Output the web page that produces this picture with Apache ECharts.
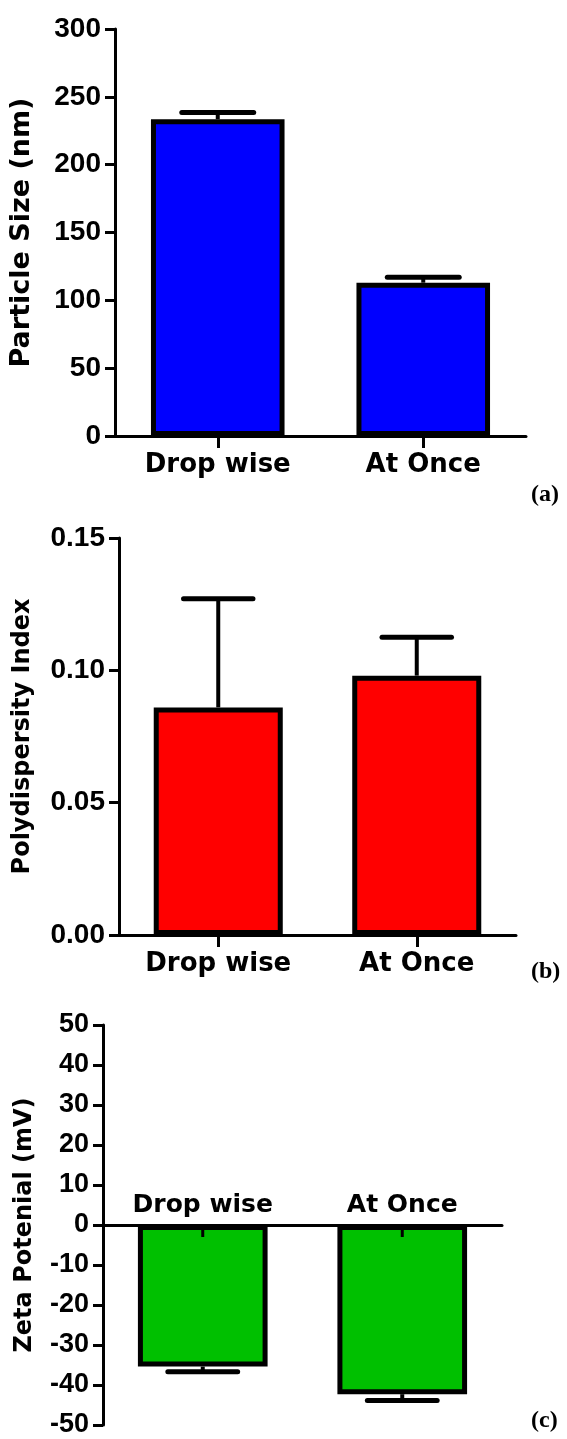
<!DOCTYPE html>
<html>
<head>
<meta charset="utf-8">
<script src="https://cdn.jsdelivr.net/npm/echarts@6/dist/echarts.min.js"></script>
<style>
html,body{margin:0;padding:0;background:#fff;}
#chart{width:567px;height:1439px;}
</style>
</head>
<body>
<div id="chart"></div>
<script>
// ---- data ----
const categories = ['Drop wise', 'At Once'];
const sizeMean = [233.5, 113];
const sizeErr = [5, 4];
const pdiMean = [0.086, 0.098];
const pdiErr = [0.041, 0.0145];
const zetaMean = [-35.4, -42.3];
const zetaErr = [1.3, 1.6];
const sizeTicks = {min: 0, max: 300, interval: 50};
const pdiTicks = {min: 0, max: 0.15, interval: 0.05};
const zetaTicks = {min: -50, max: 50, interval: 10};

const chart = echarts.init(document.getElementById('chart'), null, {renderer: 'canvas'});

const tickFont = {fontFamily: 'Liberation Sans', fontWeight: 'bold', color: '#000'};
const catFont = {fontFamily: 'DejaVu Sans', fontWeight: 'bold', color: '#000'};
const AXW = 3;
const BW = 5;

function errorRender(sign) {
  return function (params, api) {
    const x = api.value(0);
    const mean = api.value(1);
    const err = api.value(2);
    const p0 = api.coord([x, mean]);
    const p1 = api.coord([x, mean + sign * err]);
    const band = api.size([1, 0])[0];
    const half = band * 0.175;
    return {
      type: 'group',
      children: [
        {type: 'line', shape: {x1: p0[0], y1: p0[1], x2: p1[0], y2: p1[1]},
         style: {stroke: '#000', lineWidth: 4}},
        {type: 'line', shape: {x1: p1[0] - half, y1: p1[1], x2: p1[0] + half, y2: p1[1]},
         style: {stroke: '#000', lineWidth: 5, lineCap: 'round'}}
      ]
    };
  };
}

// category label above the zero line plus a tick pointing down (panel c)
function catLabelRender(params, api) {
  const i = api.value(0);
  const p = api.coord([i, 0]);
  return {
    type: 'group',
    children: [
      {type: 'line', shape: {x1: p[0], y1: p[1], x2: p[0], y2: p[1] + 12},
       style: {stroke: '#000', lineWidth: AXW}},
      {type: 'text', x: p[0], y: p[1] - 7,
       style: {text: categories[params.dataIndex], fill: '#000',
               font: 'bold 25px "DejaVu Sans"', align: 'center', verticalAlign: 'bottom'}}
    ]
  };
}

function errData(mean, err) {
  return mean.map((m, i) => [i, m, err[i]]);
}

function xAxisCfg(gridIndex, showLabel, margin, z) {
  return {
    type: 'category', gridIndex: gridIndex, data: categories, z: z,
    axisLine: {onZero: true, lineStyle: {color: '#000', width: AXW}},
    axisTick: {show: showLabel, alignWithLabel: true, length: 12, lineStyle: {color: '#000', width: AXW}},
    axisLabel: Object.assign({show: showLabel, fontSize: 26, margin: margin}, catFont),
    splitLine: {show: false}
  };
}

function yAxisCfg(gridIndex, ticks, name, nameSize, nameGap, labelSize, fmt) {
  return Object.assign({
    type: 'value', gridIndex: gridIndex,
    name: name, nameLocation: 'middle', nameGap: nameGap,
    nameTextStyle: Object.assign({fontSize: nameSize}, catFont),
    axisLine: {show: true, lineStyle: {color: '#000', width: AXW}},
    axisTick: {show: true, length: 10, lineStyle: {color: '#000', width: AXW}},
    axisLabel: Object.assign({fontSize: labelSize, margin: 14, formatter: fmt}, tickFont),
    splitLine: {show: false}
  }, ticks);
}

const option = {
  backgroundColor: '#fff',
  animation: false,
  title: [
    {text: '(a)', left: 526, top: 478, textStyle: {fontFamily: 'Liberation Serif', fontWeight: 'bold', fontSize: 24, color: '#000'}},
    {text: '(b)', left: 526, top: 955, textStyle: {fontFamily: 'Liberation Serif', fontWeight: 'bold', fontSize: 24, color: '#000'}},
    {text: '(c)', left: 526, top: 1404, textStyle: {fontFamily: 'Liberation Serif', fontWeight: 'bold', fontSize: 24, color: '#000'}}
  ],
  grid: [
    {left: 115, top: 29, width: 411, height: 407},
    {left: 119, top: 538, width: 397, height: 397},
    {left: 103, top: 1025, width: 399, height: 400}
  ],
  xAxis: [
    xAxisCfg(0, true, 16, 0),
    xAxisCfg(1, true, 16, 0),
    xAxisCfg(2, false, 8, 5)
  ],
  yAxis: [
    yAxisCfg(0, sizeTicks, 'Particle Size (nm)', 27, 80, 28, v => String(v)),
    yAxisCfg(1, pdiTicks, 'Polydispersity Index', 24, 84, 28, v => v.toFixed(2)),
    yAxisCfg(2, zetaTicks, 'Zeta Potenial (mV)', 24, 66, 27, v => String(v))
  ],
  series: [
    {type: 'custom', xAxisIndex: 0, yAxisIndex: 0, renderItem: errorRender(1), data: errData(sizeMean, sizeErr), z: 1},
    {type: 'bar', xAxisIndex: 0, yAxisIndex: 0, data: sizeMean, barWidth: '65%',
     itemStyle: {color: '#0000FF', borderColor: '#000', borderWidth: BW}, z: 2},
    {type: 'custom', xAxisIndex: 1, yAxisIndex: 1, renderItem: errorRender(1), data: errData(pdiMean, pdiErr), z: 1},
    {type: 'bar', xAxisIndex: 1, yAxisIndex: 1, data: pdiMean, barWidth: '65%',
     itemStyle: {color: '#FF0000', borderColor: '#000', borderWidth: BW}, z: 2},
    {type: 'custom', xAxisIndex: 2, yAxisIndex: 2, renderItem: errorRender(-1), data: errData(zetaMean, zetaErr), z: 1},
    {type: 'bar', xAxisIndex: 2, yAxisIndex: 2, data: zetaMean, barWidth: '65%',
     itemStyle: {color: '#00C000', borderColor: '#000', borderWidth: BW}, z: 2},
    {type: 'custom', xAxisIndex: 2, yAxisIndex: 2, renderItem: catLabelRender, z: 6,
     data: categories.map((c, i) => [i, 0])}
  ]
};
chart.setOption(option);
</script>
</body>
</html>
